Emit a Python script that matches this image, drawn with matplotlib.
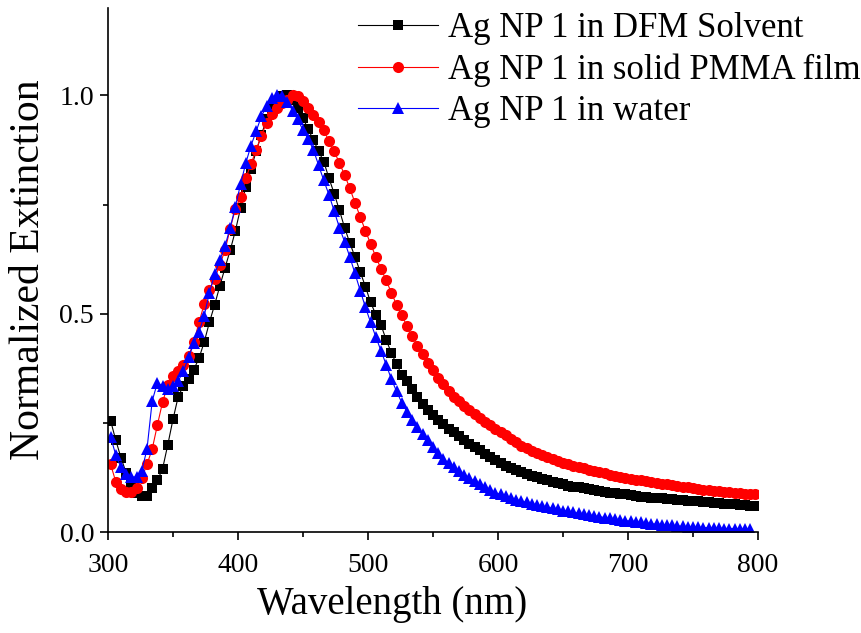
import numpy as np
import matplotlib

matplotlib.use("Agg")
from matplotlib import pyplot as plt
from matplotlib.ticker import MultipleLocator, FormatStrFormatter


# sampling grid (nm), every 4 nm
wavelength = np.arange(302, 799, 4)
wavelength_water = np.arange(302, 795, 4)

# Ag NP 1 in DFM solvent
ext_dfm = [
    0.255, 0.21, 0.17, 0.135, 0.108, 0.09, 0.082, 0.083, 0.1, 0.118,
    0.145, 0.2, 0.258, 0.31, 0.335, 0.35, 0.372, 0.398, 0.435, 0.48,
    0.52, 0.563, 0.605, 0.645, 0.69, 0.742, 0.79, 0.832, 0.872, 0.91,
    0.945, 0.97, 0.988, 0.998, 1.0, 0.99, 0.97, 0.948, 0.922, 0.898,
    0.872, 0.848, 0.81, 0.775, 0.737, 0.697, 0.662, 0.63, 0.596, 0.562,
    0.526, 0.498, 0.474, 0.44, 0.41, 0.384, 0.36, 0.345, 0.327, 0.31,
    0.294, 0.28, 0.267, 0.256, 0.247, 0.237, 0.228, 0.219, 0.21, 0.202,
    0.195, 0.187, 0.179, 0.172, 0.165, 0.158, 0.152, 0.147, 0.142, 0.137,
    0.133, 0.129, 0.125, 0.121, 0.118, 0.115, 0.112, 0.109, 0.106, 0.104,
    0.102, 0.1, 0.098, 0.096, 0.094, 0.092, 0.09, 0.089, 0.087, 0.086,
    0.084, 0.082, 0.081, 0.08, 0.079, 0.078, 0.077, 0.076, 0.075, 0.074,
    0.073, 0.072, 0.071, 0.07, 0.069, 0.068, 0.067, 0.066, 0.065, 0.064,
    0.063, 0.062, 0.061, 0.06, 0.06,
]

# Ag NP 1 in solid PMMA film
ext_pmma = [
    0.155, 0.115, 0.098, 0.092, 0.092, 0.1, 0.124, 0.155, 0.19, 0.245,
    0.298, 0.336, 0.357, 0.368, 0.382, 0.403, 0.435, 0.48, 0.522, 0.555,
    0.58, 0.612, 0.645, 0.695, 0.74, 0.768, 0.81, 0.843, 0.875, 0.908,
    0.937, 0.958, 0.972, 0.982, 0.99, 1.0, 0.998, 0.988, 0.972, 0.955,
    0.938, 0.92, 0.895, 0.872, 0.845, 0.818, 0.787, 0.754, 0.722, 0.69,
    0.66, 0.63, 0.603, 0.576, 0.548, 0.52, 0.497, 0.471, 0.449, 0.426,
    0.407, 0.388, 0.37, 0.353, 0.338, 0.322, 0.31, 0.299, 0.289, 0.279,
    0.27, 0.262, 0.253, 0.245, 0.237, 0.229, 0.221, 0.213, 0.205, 0.198,
    0.192, 0.186, 0.181, 0.176, 0.171, 0.167, 0.163, 0.159, 0.156, 0.152,
    0.149, 0.146, 0.143, 0.14, 0.137, 0.134, 0.131, 0.128, 0.126, 0.124,
    0.122, 0.12, 0.118, 0.116, 0.114, 0.112, 0.11, 0.109, 0.107, 0.105,
    0.104, 0.102, 0.1, 0.099, 0.097, 0.096, 0.094, 0.093, 0.092, 0.091,
    0.09, 0.089, 0.088, 0.087, 0.086,
]

# Ag NP 1 in water
ext_water = [
    0.218, 0.176, 0.148, 0.133, 0.126, 0.126, 0.14, 0.19, 0.3, 0.342,
    0.334, 0.328, 0.334, 0.346, 0.368, 0.4, 0.432, 0.458, 0.495, 0.548,
    0.59, 0.622, 0.655, 0.697, 0.745, 0.797, 0.845, 0.885, 0.918, 0.952,
    0.975, 0.994, 1.0, 0.998, 0.985, 0.965, 0.945, 0.92, 0.9, 0.875,
    0.84, 0.805, 0.772, 0.735, 0.697, 0.665, 0.63, 0.592, 0.553, 0.515,
    0.48, 0.447, 0.415, 0.383, 0.35, 0.322, 0.296, 0.275, 0.256, 0.24,
    0.225, 0.21, 0.195, 0.18, 0.168, 0.157, 0.148, 0.139, 0.131, 0.123,
    0.116, 0.109, 0.102, 0.096, 0.09, 0.086, 0.082, 0.078, 0.074, 0.071,
    0.068, 0.065, 0.062, 0.059, 0.057, 0.054, 0.052, 0.049, 0.047, 0.045,
    0.043, 0.041, 0.039, 0.037, 0.035, 0.033, 0.031, 0.029, 0.027, 0.026,
    0.025, 0.024, 0.022, 0.021, 0.019, 0.018, 0.017, 0.016, 0.015, 0.014,
    0.013, 0.012, 0.011, 0.011, 0.01, 0.01, 0.009, 0.009, 0.008, 0.008,
    0.008, 0.007, 0.007, 0.007,
]

labels = [
    "Ag NP 1 in DFM Solvent",
    "Ag NP 1 in solid PMMA film",
    "Ag NP 1 in water",
]

STYLES = [
    {"color": "black", "marker": "s", "markersize": 7.5},
    {"color": "#ff0000", "marker": "o", "markersize": 8},
    {"color": "#0000ff", "marker": "^", "markersize": 8.5},
]

plt.rcParams["font.family"] = ["Liberation Serif", "DejaVu Serif"]

fig = plt.figure(figsize=(8.62, 6.33), dpi=100)
# axes box in pixels: x 108..758, y 8..532 (from top)
ax = fig.add_axes([108 / 862, 101 / 633, 650 / 862, 524 / 633])

series = [
    (wavelength, ext_dfm),
    (wavelength, ext_pmma),
    (wavelength_water, ext_water),
]
for (x, y), label, style in zip(series, labels, STYLES):
    ax.plot(x, y, linewidth=0.8, markeredgewidth=0, label=label, **style)

ax.set_xlim(300, 800)
ax.set_ylim(0, 1.2)
ax.xaxis.set_major_locator(MultipleLocator(100))
ax.xaxis.set_minor_locator(MultipleLocator(50))
ax.yaxis.set_major_locator(MultipleLocator(0.5))
ax.yaxis.set_minor_locator(MultipleLocator(0.25))
ax.yaxis.set_major_formatter(FormatStrFormatter("%.1f"))

for side in ("top", "right"):
    ax.spines[side].set_visible(False)
for side in ("left", "bottom"):
    ax.spines[side].set_linewidth(1.2)

ax.tick_params(which="major", direction="out", length=6, width=1.2,
               labelsize=20)
ax.tick_params(which="minor", direction="out", length=3.5, width=1.2)
ax.tick_params(axis="x", which="major", pad=9)
ax.tick_params(axis="y", which="major", pad=4)

ax.set_xlabel("Wavelength (nm)", fontsize=28)
# label sits a little left of the axis centre in the original
ax.xaxis.set_label_coords(0.437, -0.104)
ax.set_ylabel("Normalized Extinction", fontsize=30, labelpad=8)

fig.legend(loc="upper left", bbox_to_anchor=(358 / 862, 1 - 12 / 633),
           frameon=False, fontsize=25, handlelength=2.3, handletextpad=0.3,
           labelspacing=0.24, borderaxespad=0, borderpad=0)

fig.savefig("out.png", dpi=100)
